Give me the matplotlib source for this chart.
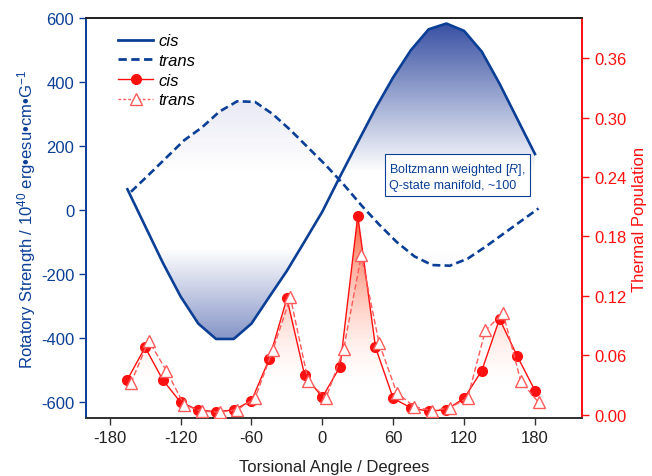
import numpy as np
import matplotlib
matplotlib.use("Agg")
import matplotlib.pyplot as plt
from matplotlib.lines import Line2D

plt.rcParams['font.family'] = ['Liberation Sans', 'DejaVu Sans']
plt.rcParams['mathtext.fontset'] = 'custom'
plt.rcParams['mathtext.rm'] = 'Liberation Sans'
plt.rcParams['mathtext.it'] = 'Liberation Sans:italic'
plt.rcParams['axes.unicode_minus'] = False

# torsional angles (degrees)
cis_x = [-165, -150, -135, -120, -105, -90, -75, -60, -45, -30, -15, 0,
         15, 30, 45, 60, 75, 90, 105, 120, 135, 150, 165, 180]
trans_x = [-162, -147, -132, -117, -102, -87, -72, -57, -42, -27, -12, 3,
           18, 33, 48, 63, 78, 93, 108, 123, 138, 153, 168, 183]

# rotatory strength (10^40 erg esu cm G^-1)
cis_R = [65, -50, -165, -270, -355, -403, -403, -355, -272, -190, -98, -5,
         105, 212, 318, 415, 500, 565, 583, 560, 495, 395, 285, 175]
trans_R = [57, 110, 164, 218, 258, 308, 340, 338, 300, 250, 195, 140,
           80, 15, -45, -100, -145, -172, -174, -152, -115, -75, -35, 5]

# thermal population
cis_pop = [0.0354, 0.068, 0.035, 0.0125, 0.0047, 0.003, 0.0047, 0.014, 0.056, 0.1175, 0.040, 0.0175,
           0.0485, 0.201, 0.068, 0.0165, 0.0068, 0.0034, 0.005, 0.0165, 0.0445, 0.0967, 0.059, 0.0243]
trans_pop = [0.032, 0.0747, 0.0445, 0.0098, 0.0034, 0.0024, 0.005, 0.0165, 0.065, 0.1186, 0.034, 0.0165,
             0.066, 0.161, 0.0724, 0.022, 0.008, 0.004, 0.0068, 0.0169, 0.085, 0.1027, 0.0337, 0.0125]

blue = '#0b3f96'
red = '#ff1010'
red_light = '#ff5a5a'


def grad_fill(ax, x, y, rgb, lo, hi, amax, power, ylim, z):
    # fill between curve and zero, coloured by |value| with a vertical gradient
    poly = ax.fill_between(x, y, 0, facecolor='none', edgecolor='none')
    path = poly.get_paths()[0]
    yy = np.linspace(ylim[0], ylim[1], 400)
    a = np.clip((np.abs(yy) - lo) / (hi - lo), 0, 1) ** power * amax
    img = np.zeros((400, 1, 4))
    img[:, 0, 0] = rgb[0]
    img[:, 0, 1] = rgb[1]
    img[:, 0, 2] = rgb[2]
    img[:, 0, 3] = a
    im = ax.imshow(img, extent=[min(x), max(x), ylim[0], ylim[1]], origin='lower',
                   aspect='auto', zorder=z, interpolation='bilinear')
    im.set_clip_path(path, transform=ax.transData)


fig = plt.figure(figsize=(6.52, 4.77), dpi=100)
ax = fig.add_axes([0.132, 0.1216, 0.761, 0.8384])
ax2 = ax.twinx()

ylim1 = (-650, 600)
ylim2 = (-0.0034, 0.4006)

grad_fill(ax, cis_x, cis_R, (0.18, 0.28, 0.62), 120, 583, 0.95, 1.0, ylim1, 1)
grad_fill(ax, trans_x, trans_R, (0.45, 0.45, 0.75), 120, 400, 0.2, 1.0, ylim1, 1)
ax.plot(cis_x, cis_R, color=blue, lw=1.9, zorder=3)
ax.plot(trans_x, trans_R, color=blue, lw=1.9, ls=(0, (3, 1.6)), zorder=3)

grad_fill(ax2, cis_x, cis_pop, (1.0, 0.28, 0.12), 0.015, 0.2, 0.9, 2.2, ylim2, 1)
grad_fill(ax2, trans_x, trans_pop, (1.0, 0.4, 0.25), 0.015, 0.2, 0.35, 2.2, ylim2, 1)
ax2.plot(cis_x, cis_pop, color=red, lw=1, marker='o', ms=7, mec=red, mfc=red, zorder=4)
ax2.plot(trans_x, trans_pop, color=red_light, lw=1, ls=(0, (4, 2)), marker='^', ms=8,
         mec=red_light, mfc='white', zorder=4)

ax.set_xlim(-200, 220)
ax.set_ylim(*ylim1)
ax2.set_ylim(*ylim2)

ax.set_xticks([-180, -120, -60, 0, 60, 120, 180])
ax.set_yticks([-600, -400, -200, 0, 200, 400, 600])
ax2.set_yticks([0.0, 0.06, 0.12, 0.18, 0.24, 0.30, 0.36])
ax2.set_yticklabels(['0.00', '0.06', '0.12', '0.18', '0.24', '0.30', '0.36'])

ax.tick_params(axis='x', labelsize=12, color='#333333', length=5, width=1, labelcolor='#222222')
ax.tick_params(axis='y', labelsize=12, colors=blue, length=5, width=1)
ax2.tick_params(axis='y', labelsize=12, colors=red, length=5, width=1)

for a in (ax, ax2):
    a.spines['top'].set_color('#222222')
    a.spines['bottom'].set_color('#333333')
    a.spines['left'].set_color(blue)
    a.spines['right'].set_color(red)
    for s in a.spines.values():
        s.set_linewidth(1.3)

ax.set_ylabel('Rotatory Strength / 10$^{40}$ erg\u2022esu\u2022cm\u2022G$^{-1}$',
              fontsize=12, color=blue, labelpad=2)
ax2.set_ylabel('Thermal Population', fontsize=12, color=red, labelpad=4)
ax.set_xlabel('Torsional Angle / Degrees', fontsize=12, color='#222222', labelpad=10)

handles = [Line2D([], [], color=blue, lw=2),
           Line2D([], [], color=blue, lw=2, ls=(0, (3, 1.6))),
           Line2D([], [], color=red, lw=1, marker='o', ms=7),
           Line2D([], [], color=red_light, lw=1, ls=(0, (2, 1.5)), marker='^', ms=8, mfc='white')]
leg = ax2.legend(handles, ['cis', 'trans', 'cis', 'trans'], loc='upper left',
                 bbox_to_anchor=(110 / 652, 1 - 26 / 477), bbox_transform=fig.transFigure,
                 frameon=False, prop={'style': 'italic', 'size': 12},
                 handlelength=2.1, handletextpad=0.3, labelspacing=0.28, borderpad=0)

ax2.text(0.611, 0.605, 'Boltzmann weighted [$\\it{R}$],\nQ-state manifold, ~100',
         transform=ax2.transAxes, fontsize=9, color=blue, va='center', ha='left',
         linespacing=1.3,
         bbox=dict(boxstyle='square,pad=0.35', fc='white', ec=blue, lw=0.8))

fig.savefig('out.png', dpi=100)
